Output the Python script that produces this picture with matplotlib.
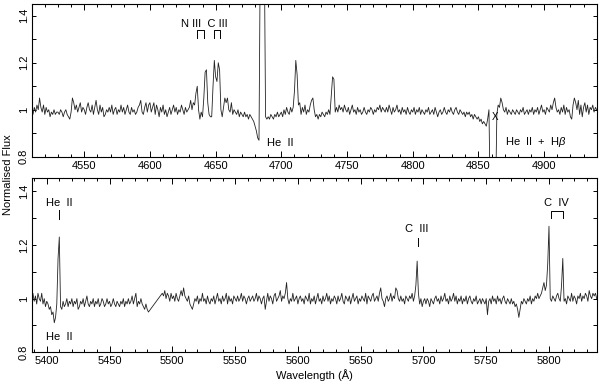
import matplotlib
matplotlib.use("Agg")
import matplotlib.pyplot as plt
import numpy as np
from matplotlib.ticker import MultipleLocator

plt.rcParams["font.family"] = ["Liberation Sans", "DejaVu Sans"]
plt.rcParams["mathtext.fontset"] = "custom"
plt.rcParams["mathtext.it"] = "Liberation Sans:italic"

# blue spectrum, 1 A sampling from 4510 A
top_start = 4510
flux_top = [
    1.00, 0.98, 1.01, 0.99, 1.02, 1.00, 1.05, 1.01, 0.99, 1.02,
    0.98, 1.01, 0.99, 1.00, 0.97, 0.99, 0.98, 1.00, 0.98, 0.99,
    0.99, 0.98, 1.00, 0.99, 0.97, 0.99, 1.00, 0.98, 0.97, 0.96,
    0.99, 1.05, 1.03, 1.00, 1.02, 0.99, 1.01, 1.03, 0.99, 1.01,
    1.00, 0.98, 1.01, 1.03, 1.00, 0.99, 1.02, 0.98, 1.01, 1.04,
    1.00, 0.98, 1.02, 0.99, 1.01, 0.97, 0.98, 1.00, 0.99, 1.01,
    0.99, 1.02, 0.98, 1.00, 1.01, 0.98, 1.00, 0.99, 1.02, 0.99,
    1.01, 0.98, 1.00, 1.02, 0.99, 0.98, 1.01, 0.99, 1.00, 0.98,
    0.99, 1.01, 1.02, 1.04, 0.99, 0.98, 1.01, 1.03, 0.99, 1.02,
    1.03, 0.99, 1.01, 1.03, 0.98, 1.02, 1.00, 0.97, 1.01, 0.99,
    1.02, 0.98, 1.00, 0.97, 0.99, 1.01, 0.98, 1.00, 1.02, 0.99,
    1.01, 0.98, 1.00, 0.99, 1.02, 1.00, 0.98, 1.01, 0.99, 1.00,
    1.01, 1.04, 1.00, 1.03, 1.02, 1.07, 1.10, 1.00, 0.96, 0.99,
    0.97, 1.05, 1.16, 1.17, 1.03, 0.98, 0.97, 0.97, 1.10, 1.21,
    1.14, 1.12, 1.20, 1.17, 1.00, 0.97, 1.01, 1.05, 1.03, 1.05,
    1.00, 0.99, 1.03, 0.98, 1.00, 0.99, 0.98, 1.00, 0.97, 0.99,
    0.98, 0.97, 0.99, 0.97, 0.98, 0.96, 0.98, 0.97, 0.96, 0.95,
    0.93, 0.91, 0.88, 0.87, 1.70, 1.90, 1.90, 1.70, 0.97, 0.96,
    0.97, 0.96, 0.98, 0.97, 0.96, 0.98, 0.97, 0.99, 0.97, 0.98,
    0.99, 0.97, 1.00, 0.98, 1.01, 0.99, 0.98, 1.01, 0.99, 1.01,
    1.08, 1.21, 1.15, 1.02, 1.03, 0.98, 1.01, 0.99, 1.02, 0.98,
    1.00, 0.99, 1.02, 1.04, 1.05, 1.00, 0.97, 0.98, 0.96, 0.98,
    0.97, 0.99, 0.98, 0.97, 0.99, 0.98, 1.00, 0.98, 1.06, 1.14,
    1.13, 0.99, 1.01, 0.99, 1.02, 1.00, 1.01, 0.99, 1.02, 1.00,
    0.99, 1.01, 0.98, 1.00, 1.02, 0.99, 1.00, 0.98, 1.01, 0.99,
    1.00, 0.98, 0.99, 1.01, 0.99, 0.98, 1.00, 0.99, 1.01, 1.00,
    0.98, 1.00, 0.99, 1.01, 1.00, 1.02, 0.99, 1.01, 1.00, 0.99,
    1.01, 0.99, 1.02, 1.00, 0.98, 1.01, 0.99, 1.00, 1.02, 0.99,
    1.00, 0.98, 1.01, 0.99, 1.00, 0.98, 1.01, 0.99, 0.98, 1.00,
    0.99, 1.01, 0.98, 1.00, 0.99, 1.01, 0.98, 1.00, 0.99, 0.98,
    1.00, 0.99, 1.01, 0.98, 0.99, 1.00, 0.98, 1.01, 0.99, 0.97,
    0.99, 1.00, 0.98, 0.99, 1.01, 0.99, 0.98, 1.00, 0.99, 1.01,
    0.99, 0.98, 1.00, 1.01, 0.99, 0.98, 1.00, 0.99, 0.98, 0.99,
    0.97, 0.99, 0.98, 0.99, 0.97, 0.98, 0.96, 0.98, 0.97, 0.96,
    0.97, 0.95, 0.96, 0.94, 0.95, 0.94, 0.93, 0.96, 1.00, 0.60,
    0.55, 0.55, 0.55, 0.60, 0.98, 1.02, 1.01, 1.05, 1.03, 1.00,
    0.99, 1.01, 0.98, 1.00, 0.99, 0.98, 1.00, 0.99, 0.98, 1.00,
    0.99, 0.98, 1.00, 0.99, 1.01, 0.98, 0.99, 1.00, 0.98, 1.00,
    0.99, 1.01, 0.98, 1.00, 0.99, 1.01, 0.98, 1.00, 1.02, 0.99,
    1.00, 0.98, 1.01, 1.00, 0.99, 1.02, 1.00, 1.03, 1.05, 1.01,
    0.99, 1.00, 0.98, 1.01, 0.99, 1.02, 0.98, 1.01, 0.99, 1.00,
    0.97, 0.96, 1.02, 1.05, 1.03, 1.00, 1.04, 0.98, 1.02, 0.97,
    1.01, 1.03, 0.99, 1.02, 0.98, 1.01, 1.00, 1.02, 0.99, 1.01,
    1.00,
]

# red spectrum, two pieces either side of the 5482-5491 A gap
red1_start = 5388
flux_red1 = [
    1.00, 1.02, 0.99, 1.01, 0.98, 1.02, 1.00, 0.99, 1.02, 0.98,
    1.00, 0.97, 0.99, 0.98, 0.96, 0.97, 0.94, 0.95, 0.91, 0.93,
    0.98, 1.15, 1.23, 0.97, 0.96, 0.99, 0.97, 0.98, 1.00, 0.97,
    0.99, 0.98, 1.00, 0.97, 0.99, 0.98, 1.00, 0.96, 0.97, 0.99,
    0.98, 1.00, 0.97, 0.99, 1.01, 0.98, 0.97, 0.99, 0.98, 1.00,
    0.97, 0.99, 0.98, 1.00, 0.97, 0.98, 1.00, 0.99, 0.97, 0.98,
    1.00, 0.98, 0.99, 0.97, 0.98, 1.00, 0.98, 0.97, 0.99, 0.98,
    0.97, 0.99, 0.98, 1.00, 0.97, 0.99, 0.98, 1.00, 0.98, 0.99,
    1.01, 0.98, 1.00, 1.02, 0.97, 0.99, 0.98, 1.00, 0.98, 0.97,
    0.96, 0.98, 0.96, 0.95,
]
red2_start = 5492
flux_red2 = [
    1.02, 1.01, 1.03, 1.00, 1.02, 1.01, 0.99, 1.02, 1.00, 1.01,
    0.99, 1.02, 1.00, 0.99, 1.01, 1.03, 1.01, 1.04, 1.01, 1.00,
    0.99, 1.01, 0.98, 0.97, 0.96, 0.98, 1.00, 0.99, 1.01, 0.98,
    1.00, 0.99, 1.02, 0.99, 1.00, 0.98, 1.01, 0.99, 0.98, 1.00,
    0.99, 1.01, 0.98, 1.00, 1.02, 0.99, 1.00, 0.98, 1.01, 0.99,
    1.00, 1.02, 0.98, 1.01, 0.99, 1.00, 0.98, 1.01, 1.00, 0.99,
    1.01, 0.99, 1.00, 1.02, 0.99, 1.01, 1.00, 0.98, 1.00, 1.01,
    0.99, 1.00, 1.01, 0.99, 1.00, 1.02, 0.99, 1.01, 1.00, 0.98,
    1.00, 1.01, 0.96, 0.99, 1.02, 0.99, 1.01, 1.00, 0.98, 1.01,
    1.02, 0.99, 1.00, 1.01, 1.03, 0.99, 1.01, 1.00, 1.02, 1.06,
    1.00, 0.98, 1.00, 0.99, 1.02, 0.99, 1.00, 1.01, 0.98, 1.00,
    1.01, 0.99, 1.00, 0.98, 1.01, 1.00, 0.99, 1.02, 0.98, 1.00,
    0.99, 1.01, 0.98, 1.00, 1.02, 0.99, 1.00, 0.98, 1.01, 0.99,
    1.00, 1.02, 0.99, 1.01, 0.98, 1.00, 0.99, 1.01, 1.00, 0.98,
    1.01, 0.99, 1.00, 1.02, 0.99, 0.98, 1.01, 1.00, 0.99, 1.01,
    0.98, 1.00, 1.02, 0.99, 1.00, 1.01, 0.98, 1.00, 0.99, 1.01,
    1.00, 0.99, 1.02, 0.98, 1.01, 1.00, 0.99, 1.01, 1.02, 0.99,
    1.00, 1.01, 0.99, 1.02, 1.04, 1.00, 0.99, 0.97, 1.00, 1.01,
    0.99, 1.00, 1.02, 0.99, 1.01, 1.00, 1.04, 1.03, 1.00, 0.99,
    1.01, 0.99, 1.00, 0.98, 1.01, 1.00, 0.99, 1.01, 1.00, 1.02,
    0.99, 1.01, 1.05, 1.14, 1.02, 0.98, 1.00, 0.97, 0.99, 1.00,
    0.98, 1.00, 0.99, 0.97, 1.00, 0.99, 0.98, 1.00, 1.01, 0.99,
    1.00, 0.98, 1.01, 0.99, 1.00, 1.02, 0.99, 1.00, 0.98, 1.01,
    0.99, 1.00, 1.02, 0.99, 1.01, 0.98, 1.00, 0.99, 1.01, 0.98,
    1.00, 0.99, 1.01, 0.98, 1.00, 1.01, 0.99, 0.98, 1.00, 0.99,
    1.01, 0.98, 0.99, 1.00, 0.98, 1.00, 0.99, 0.98, 1.00, 0.94,
    0.99, 1.00, 0.98, 1.01, 0.99, 1.00, 0.98, 1.01, 0.99, 1.00,
    0.98, 1.00, 1.01, 0.99, 0.98, 1.00, 0.99, 0.98, 1.00, 0.98,
    0.99, 0.97, 0.98, 0.96, 0.93, 0.96, 0.99, 0.98, 1.00, 0.99,
    0.98, 1.00, 0.99, 1.01, 0.98, 1.00, 0.99, 1.01, 1.00, 1.02,
    1.00, 1.01, 1.02, 1.04, 1.06, 1.03, 1.05, 1.13, 1.27, 1.00,
    0.99, 1.01, 1.00, 0.99, 1.01, 1.02, 1.00, 0.99, 1.05, 1.15,
    0.99, 1.00, 0.98, 1.01, 1.00, 0.99, 1.02, 0.99, 1.01, 1.00,
    0.98, 1.01, 1.00, 1.02, 0.99, 1.01, 1.00, 1.02, 1.01, 0.99,
    1.03, 1.01, 1.00, 1.02, 1.01, 1.02, 1.00,
]

# line identifications
niii_pair = [4636, 4641]
ciii_pair = [4649, 4653]
heii_red = 5409.5
ciii_red = 5695.5
civ_pair = [5801.3, 5811.1]

wl_top = np.arange(top_start, top_start + len(flux_top))
wl_red = np.concatenate([
    np.arange(red1_start, red1_start + len(flux_red1)),
    np.arange(red2_start, red2_start + len(flux_red2)),
])
flux_red = np.array(flux_red1 + flux_red2)

fig = plt.figure(figsize=(6.0, 3.86), dpi=100)
ax1 = fig.add_axes([0.0528, 0.594, 0.9417, 0.3956])
ax2 = fig.add_axes([0.0528, 0.0875, 0.9417, 0.4514])

col = "#222222"
ax1.plot(wl_top, flux_top, color=col, lw=0.6)
ax2.plot(wl_red, flux_red, color=col, lw=0.6)

ax1.set_xlim(4510, 4940)
ax2.set_xlim(5388, 5838)

for ax in (ax1, ax2):
    ax.set_ylim(0.8, 1.45)
    ax.xaxis.set_major_locator(MultipleLocator(50))
    ax.xaxis.set_minor_locator(MultipleLocator(10))
    ax.set_yticks([0.8, 1.0, 1.2, 1.4], ["0.8", "1", "1.2", "1.4"])
    ax.yaxis.set_minor_locator(MultipleLocator(0.1))
    ax.tick_params(which="both", direction="in", top=True, right=True,
                   labelsize=8, width=0.7, pad=3)
    ax.xaxis.set_tick_params(which="major", length=4.5)
    ax.xaxis.set_tick_params(which="minor", length=2.2)
    ax.yaxis.set_tick_params(which="both", length=3)
    ax.tick_params(axis="y", labelrotation=90, pad=2)
    for lbl in ax.get_yticklabels():
        lbl.set_va("center")
    for sp in ax.spines.values():
        sp.set_linewidth(0.8)

fs = 8
# top panel labels
ax1.text(np.mean(niii_pair + ciii_pair) - 3, 1.366, "N III  C III",
         ha="center", va="center", fontsize=fs)
for pair in (niii_pair, ciii_pair):
    ax1.plot([pair[0], pair[0], pair[1], pair[1]], [1.305, 1.340, 1.340, 1.305],
             color="k", lw=0.7)
ax1.text(4689, 0.86, "He  II", ha="left", va="center", fontsize=fs)
ax1.text(4870, 0.864, "He  II  +  H$\\it{\\beta}$", ha="left", va="center",
         fontsize=fs)
ax1.text(4862.5, 0.968, "X", ha="center", va="center", fontsize=7)

# bottom panel labels
ax2.text(heii_red + 0.5, 1.357, "He  II", ha="center", va="center", fontsize=fs)
ax2.plot([heii_red, heii_red], [1.296, 1.330], color="k", lw=0.7)
ax2.text(heii_red + 0.5, 0.857, "He  II", ha="center", va="center", fontsize=fs)
ax2.text(ciii_red - 0.5, 1.258, "C  III", ha="center", va="center", fontsize=fs)
ax2.plot([ciii_red, ciii_red], [1.195, 1.225], color="k", lw=0.7)
ax2.text(np.mean(civ_pair), 1.357, "C  IV", ha="center", va="center", fontsize=fs)
ax2.plot([civ_pair[0], civ_pair[0], civ_pair[1], civ_pair[1]],
         [1.299, 1.327, 1.327, 1.299], color="k", lw=0.7)

fig.text(0.013, 0.547, "Normalised Flux", rotation=90, ha="center", va="center",
         fontsize=fs)
fig.text(0.524, 0.028, "Wavelength (Å)", ha="center", va="center", fontsize=fs)

fig.savefig("out.png", dpi=100)
